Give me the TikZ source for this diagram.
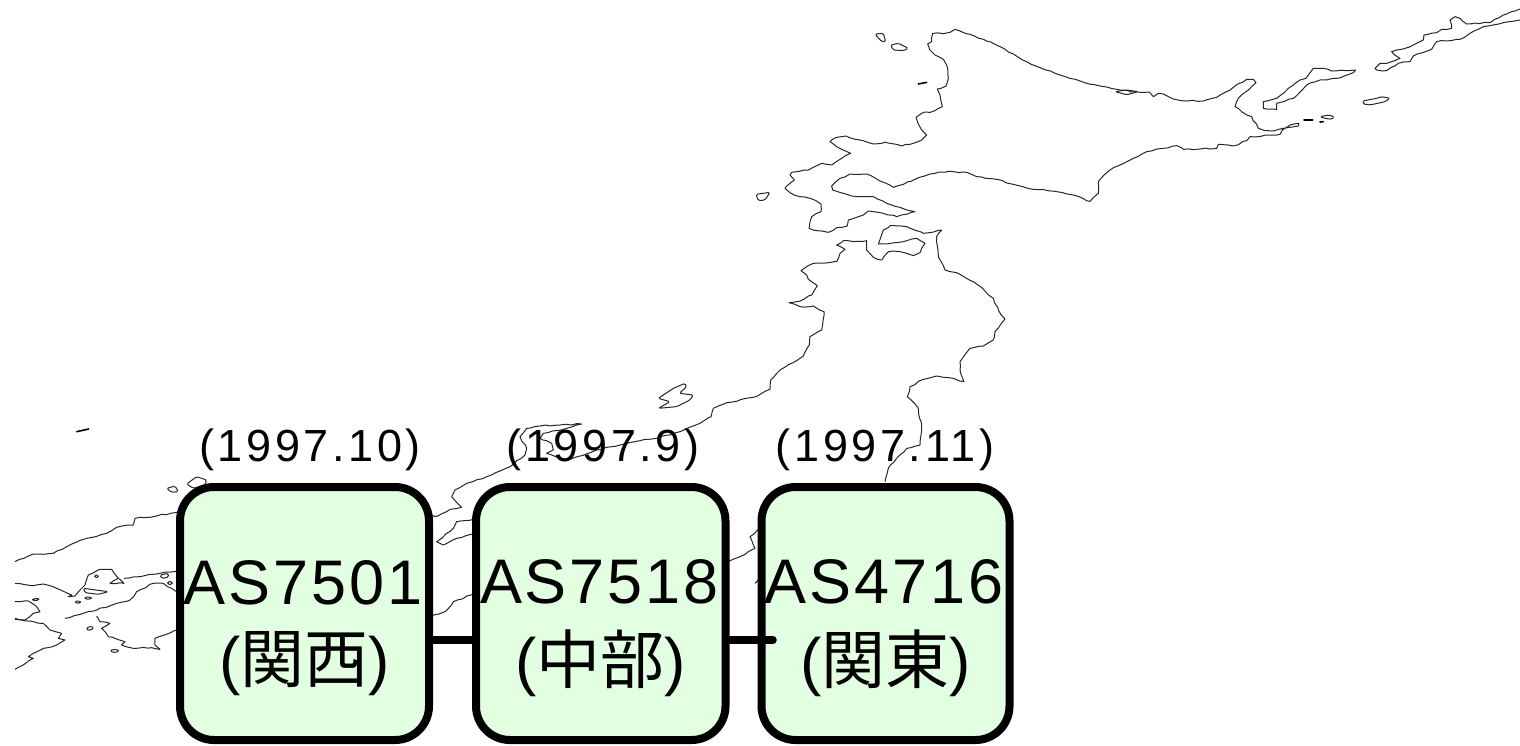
\documentclass[tikz,border=0pt]{standalone}
\usepackage{fontspec}
\usetikzlibrary{decorations.pathmorphing}
\setmainfont{Liberation Sans}
\newfontfamily\cjk{Noto Sans CJK JP}
\newfontfamily\lblfont[LetterSpace=8]{Liberation Sans}
\newfontfamily\asfont[LetterSpace=4.5]{Liberation Sans}
\newcommand{\boxtext}[2]{\raisebox{-17pt}[0pt][0pt]{\begin{tabular}{@{}c@{}}\fontsize{63}{63}\asfont\hspace*{-3pt}#1\\[23pt]\fontsize{64}{64}\selectfont\normalfont(\cjk #2\normalfont)\end{tabular}}}
\pgfmathsetseed{7}
\tikzset{
  coast/.style={draw=black!85,line width=1pt,line join=round,decorate,decoration={random steps,segment length=5pt,amplitude=0.7pt}},
  isle/.style={draw=black!85,line width=1pt,line join=round,rounded corners=1.5pt},
  dot/.style={draw=black,line width=1.6pt,line cap=round},
  asbox/.style={draw=black,line width=8pt,rounded corners=34pt,fill=asgreen,inner sep=0pt,outer sep=0pt,anchor=north west},
  link/.style={draw=black,line width=7.5pt},
  yearlabel/.style={inner sep=0pt,font=\fontsize{45}{45}\lblfont,text=black}
}
\definecolor{asgreen}{HTML}{E2FFE2}
\begin{document}
\begin{tikzpicture}[x=1pt,y=-1pt]
\useasboundingbox (0,0) rectangle (1520,745);
% Hokkaido, west part
\begin{scope}[shift={(740,0)},scale=1/3]
\path[coast] (1140,270)--(1130,268)--(1080,258)--(1020,243)--(960,225)--(900,203)--(860,185)--(820,162)--(780,140)--(730,118)--(690,103)--(660,93)--(645,88)--(630,97)--(610,101)--(578,100)--(575,125)--(563,132)--(570,150)--(585,165)--(610,178)--(620,195)--(625,235)--(618,258)--(592,267)--(600,285)--(607,320)--(585,332)--(545,340)--(528,352)--(535,372)--(545,390)--(560,405)--(545,420)--(510,433)--(485,438)--(450,430)--(435,427)--(400,432)--(360,420)--(318,408)--(290,412)--(270,425)--(290,440)--(332,460)--(300,478)--(275,495)--(245,490)--(205,510)--(155,517)--(150,525)--(163,540)--(135,565)--(150,578)--(180,590)--(210,595)--(243,612)--(243,635)--(215,650)--(207,685)--(230,692)--(265,697)--(290,683)--(322,678)--(325,660)--(370,645)--(385,633)--(430,640)--(470,650)--(525,635)--(480,622)--(440,610)--(400,590)--(350,590)--(310,580)--(278,570)--(275,558)--(300,535)--(330,522)--(380,522)--(420,543)--(460,562)--(510,545)--(570,522)--(625,514)--(680,517)--(710,530)--(770,538)--(820,553)--(880,568)--(950,575)--(1000,585)--(1050,604)--(1075,580)--(1075,545)--(1110,510)--(1140,495);
\path[isle] (405,102)--(430,100)--(437,125)--(425,125)--cycle;
\path[isle] (452,135)--(475,130)--(505,145)--(490,152)--(460,150)--cycle;
\path[dot] (535,252)--(560,247);
\path[isle] (48,583)--(90,577)--(75,600)--(55,602)--cycle;
\path[isle] (1125,275)--(1160,270)--(1195,275)--(1160,284)--cycle;
\end{scope}
% Hokkaido east and Kuriles
\begin{scope}[shift={(1120,0)},scale=1/3]
\path[coast] (0,495)--(40,475)--(80,455)--(130,445)--(170,437)--(190,448)--(240,447)--(290,445)--(295,433)--(340,438)--(380,422)--(390,410)--(480,403)--(487,390)--(510,375)--(537,370)--(535,378)--(490,385)--(460,393)--(435,392)--(415,385)--(395,350)--(365,335)--(345,320)--(355,295)--(385,270)--(408,248)--(400,238)--(380,238)--(340,262)--(290,292)--(250,303)--(195,303)--(160,297)--(130,282)--(115,280)--(100,290)--(88,276)--(50,275)--(0,270);
\path[coast] (430,305)--(470,295)--(505,265)--(540,240)--(558,235)--(580,205)--(610,205)--(635,213)--(680,212)--(707,210)--(700,218)--(650,235)--(600,240)--(560,255)--(520,295)--(470,310)--(470,328)--(430,325)--cycle;
\path[coast] (1200,27)--(1150,45)--(1110,68)--(1040,72)--(1020,55)--(1005,50)--(990,60)--(995,85)--(965,88)--(950,98)--(912,105)--(910,120)--(880,135)--(845,148)--(815,155)--(840,175)--(800,190)--(780,190)--(765,205)--(770,210)--(800,212)--(835,190)--(870,185)--(880,168)--(935,148)--(950,125)--(1020,118)--(1050,100)--(1090,80)--(1150,68)--(1200,60);
\path[isle] (728,303)--(770,295)--(785,290)--(810,295)--(795,305)--(750,315)--(730,312)--cycle;
\path[isle] (600,350)--(625,345)--(643,350)--(635,358)--(615,355)--cycle;
\path[dot] (552,360)--(578,360);
\path[dot] (600,366)--(610,365);
\end{scope}
% Northern Honshu
\begin{scope}[shift={(640,220)},scale=1/3]
\path[coast] (0,662)--(50,655)--(120,635)--(180,610)--(213,590)--(220,565)--(260,548)--(340,532)--(390,508)--(392,480)--(420,450)--(490,408)--(508,375)--(510,350)--(545,330)--(552,275)--(520,258)--(480,260)--(447,248)--(480,243)--(515,225)--(532,197)--(505,178)--(500,165)--(483,152)--(520,130)--(590,125)--(600,100)--(615,88)--(590,75)--(610,62)--(640,65)--(680,62)--(680,90)--(700,112)--(725,120)--(745,95)--(780,95)--(820,107)--(840,98)--(855,70)--(830,55)--(790,65)--(715,72)--(730,30)--(750,17)--(800,20)--(850,40)--(905,30)--(890,50)--(895,110)--(915,150)--(950,158)--(1000,185)--(1035,213)--(1060,235)--(1075,270)--(1095,297)--(1065,335)--(1060,360)--(1030,378)--(990,385)--(960,425)--(960,450)--(972,485)--(940,475)--(890,468)--(850,478)--(810,500)--(802,530)--(835,565)--(845,620)--(840,675)--(800,685)--(770,715)--(745,745)--(735,785);
\path[isle] (55,535)--(100,505)--(135,490)--(140,500)--(118,520)--(160,525)--(150,540)--(110,560)--(55,565)--(90,545)--cycle;
\end{scope}
% Central Honshu
\begin{scope}[shift={(400,420)},scale=1/3]
\path[coast] (720,62)--(660,75)--(590,90)--(540,108)--(490,122)--(440,100)--(460,90)--(455,70)--(420,55)--(430,40)--(500,25)--(545,12)--(480,15)--(420,18)--(380,25)--(360,50)--(380,85)--(375,105)--(330,140)--(260,170)--(200,190)--(165,210)--(155,230)--(185,262)--(150,268)--(140,275)--(105,290)--(85,280);
\path[coast] (225,297)--(170,305)--(160,325)--(110,365)--(130,375)--(170,355)--(225,338);
\path[coast] (90,590)--(135,575)--(160,545)--(225,520);
\path[coast] (975,430)--(1020,410)--(1065,385)--(1050,350)--(1080,325);
\path[coast] (1065,490)--(1080,475);
\end{scope}
% Western Japan
\begin{scope}[shift={(0,410)},scale=1/3]
\path[coast] (45,455)--(100,432)--(160,430)--(200,410)--(260,385)--(320,370)--(350,352)--(400,345)--(405,325)--(470,318)--(540,305);
\path[isle] (500,235)--(525,228)--(535,245)--(515,247)--cycle;
\path[isle] (560,222)--(590,200)--(620,210)--(615,225)--(580,235)--cycle;
\path[dot] (230,65)--(266,57);
\path[coast] (45,520)--(100,527)--(130,522)--(170,535)--(215,555)--(205,560)--(225,558)--(240,540)--(255,525)--(265,495)--(300,478)--(335,478)--(355,505)--(330,520)--(372,520)--(355,505);
\path[coast] (372,505)--(420,500)--(480,490)--(540,480);
\path[isle] (250,535)--(325,545)--(295,553)--(255,548)--cycle;
\path[coast] (45,575)--(85,573)--(110,590)--(120,605)--(100,610)--(75,630)--(45,625);
\path[coast] (45,628)--(100,635)--(130,640)--(150,660)--(185,670)--(175,685)--(195,690)--(170,705)--(130,715)--(100,730)--(85,740)--(100,745)--(70,765)--(45,778);
\path[coast] (195,625)--(250,610)--(290,600)--(350,580)--(390,570)--(410,545)--(460,520)--(490,520)--(540,550);
\path[coast] (290,618)--(300,635)--(330,640)--(305,655)--(325,680)--(375,695)--(365,705)--(400,715)--(455,713)--(480,718)--(465,705)--(465,685)--(540,658);
\path[isle] (225,574)--(240,573)--(242,579)--(228,580)--cycle;
\path[isle] (252,562)--(272,561)--(275,566)--(258,568)--cycle;
\path[isle] (97,567)--(118,565)--(115,571)--(100,572)--cycle;
\path[isle] (258,655)--(275,648)--(282,655)--(265,662)--cycle;
\path[isle] (330,720)--(352,718)--(358,724)--(338,728)--cycle;
\path[isle] (283,495)--(295,495)--(295,503)--(285,503)--cycle;
\path[isle] (480,495)--(505,490)--(505,502)--(485,505)--cycle;
\path[isle] (503,515)--(517,515)--(517,523)--(503,523)--cycle;
\end{scope}
% Boxes
\node[asbox,minimum width=249pt,minimum height=253pt] (b1) at (180,487) {\boxtext{AS7501}{関西}};
\node[asbox,minimum width=249.5pt,minimum height=253pt] (b2) at (476,487) {\boxtext{AS7518}{中部}};
\node[asbox,minimum width=248pt,minimum height=253pt] (b3) at (761.5,487) {\boxtext{AS4716}{関東}};
% Year labels
\node[yearlabel] (y1) at (310,450) {(1997.10)};
\node[yearlabel] (y2) at (603,450) {(1997.9)};
\node[yearlabel] (y3) at (885,450) {(1997.11)};
% Links
\coordinate (lvl) at (0,640);
\coordinate (tail) at (773,640);
\draw[link] (b1.east |- lvl) -- (b2.west |- lvl);
\draw[link,line cap=round] (b2.east |- lvl) -- (tail);
\end{tikzpicture}
\end{document}
